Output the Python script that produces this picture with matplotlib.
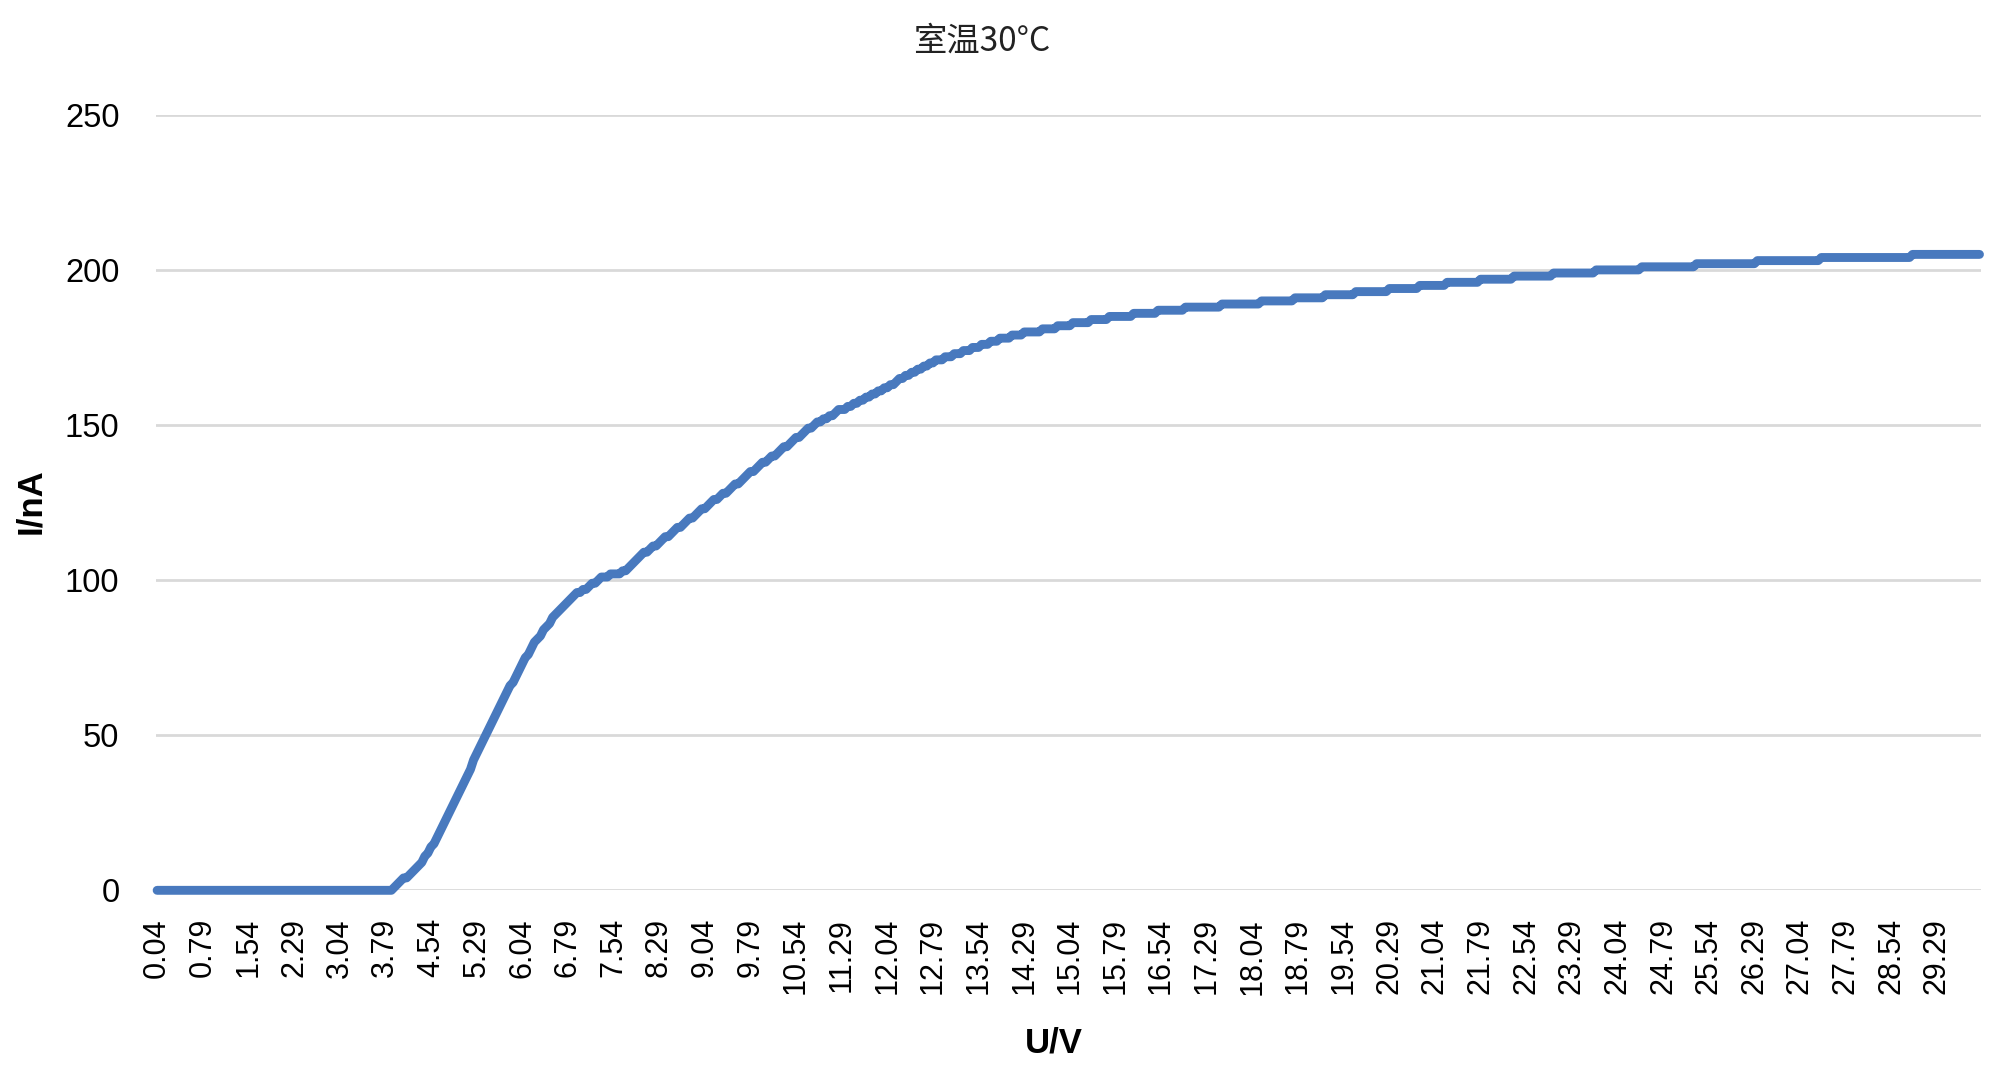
import numpy as np
import matplotlib
matplotlib.use("Agg")
import matplotlib.pyplot as plt

# ---------------- data ----------------
title_text = "室温30°C"
x_title = "U/V"
y_title = "I/nA"

voltage_start = 0.04   # first category (V)
voltage_step = 0.05    # category spacing (V)
label_every = 15       # a category label every 15 categories

# current before the onset (indices 0..77)
current_off = [
    0, 0, 0, 0, 0, 0, 0, 0, 0, 0, 0, 0, 0,
    0, 0, 0, 0, 0, 0, 0, 0, 0, 0, 0, 0, 0,
    0, 0, 0, 0, 0, 0, 0, 0, 0, 0, 0, 0, 0,
    0, 0, 0, 0, 0, 0, 0, 0, 0, 0, 0, 0, 0,
    0, 0, 0, 0, 0, 0, 0, 0, 0, 0, 0, 0, 0,
    0, 0, 0, 0, 0, 0, 0, 0, 0, 0, 0, 0, 0,
]

# steep rise (indices 78..145)
current_rise = [
    1, 2, 3, 4, 4, 5, 6, 7, 8, 9, 11, 12, 14, 15, 17,
    19, 21, 23, 25, 27, 29, 31, 33, 35, 37, 39, 42, 44, 46, 48,
    50, 52, 54, 56, 58, 60, 62, 64, 66, 67, 69, 71, 73, 75, 76,
    78, 80, 81, 82, 84, 85, 86, 88, 89, 90, 91, 92, 93, 94, 95,
    96, 96, 97, 97, 98, 99, 99, 100,
]

# second rise (indices 146..240)
current_mid = [
    101, 101, 101, 102, 102, 102, 102, 103, 103, 104,
    105, 106, 107, 108, 109, 109, 110, 111, 111, 112,
    113, 114, 114, 115, 116, 117, 117, 118, 119, 120,
    120, 121, 122, 123, 123, 124, 125, 126, 126, 127,
    128, 128, 129, 130, 131, 131, 132, 133, 134, 135,
    135, 136, 137, 138, 138, 139, 140, 140, 141, 142,
    143, 143, 144, 145, 146, 146, 147, 148, 149, 149,
    150, 151, 151, 152, 152, 153, 153, 154, 155, 155,
    155, 156, 156, 157, 157, 158, 158, 159, 159, 160,
    160, 161, 161, 162, 162,
]

# knee (indices 241..290)
current_knee = [
    163, 163, 164, 165, 165, 166, 166, 167, 167, 168,
    168, 169, 169, 170, 170, 171, 171, 171, 172, 172,
    172, 173, 173, 173, 174, 174, 174, 175, 175, 175,
    176, 176, 176, 177, 177, 177, 178, 178, 178, 178,
    179, 179, 179, 179, 180, 180, 180, 180, 180, 180,
]

# saturation with 1 nA steps (indices 291..599)
current_sat = (
    [181, 181, 181, 181, 181]
    + [182, 182, 182, 182, 182]
    + [183, 183, 183, 183, 183, 183]
    + [184, 184, 184, 184, 184, 184]
    + [185, 185, 185, 185, 185, 185, 185, 185]
    + [186, 186, 186, 186, 186, 186, 186, 186]
    + [187, 187, 187, 187, 187, 187, 187, 187, 187]
    + [188, 188, 188, 188, 188, 188, 188, 188, 188, 188, 188, 188]
    + [189, 189, 189, 189, 189, 189, 189, 189, 189, 189, 189, 189, 189]
    + [190, 190, 190, 190, 190, 190, 190, 190, 190, 190, 190]
    + [191, 191, 191, 191, 191, 191, 191, 191, 191, 191]
    + [192, 192, 192, 192, 192, 192, 192, 192, 192, 192]
    + [193, 193, 193, 193, 193, 193, 193, 193, 193, 193, 193]
    + [194, 194, 194, 194, 194, 194, 194, 194, 194, 194]
    + [195, 195, 195, 195, 195, 195, 195, 195, 195]
    + [196, 196, 196, 196, 196, 196, 196, 196, 196, 196, 196]
    + [197, 197, 197, 197, 197, 197, 197, 197, 197, 197, 197]
    + [198, 198, 198, 198, 198, 198, 198, 198, 198, 198, 198, 198, 198]
    + [199, 199, 199, 199, 199, 199, 199, 199, 199, 199, 199, 199, 199, 199]
    + [200, 200, 200, 200, 200, 200, 200, 200, 200, 200, 200, 200, 200, 200, 200]
    + [201, 201, 201, 201, 201, 201, 201, 201, 201, 201, 201, 201, 201, 201,
       201, 201, 201, 201]
    + [202, 202, 202, 202, 202, 202, 202, 202, 202, 202, 202, 202, 202, 202,
       202, 202, 202, 202, 202, 202]
    + [203, 203, 203, 203, 203, 203, 203, 203, 203, 203, 203, 203, 203, 203,
       203, 203, 203, 203, 203, 203, 203]
    + [204, 204, 204, 204, 204, 204, 204, 204, 204, 204, 204, 204, 204, 204,
       204, 204, 204, 204, 204, 204, 204, 204, 204, 204, 204, 204, 204, 204,
       204, 204]
    + [205, 205, 205, 205, 205, 205, 205, 205, 205, 205, 205, 205, 205, 205,
       205, 205, 205, 205, 205, 205, 205, 205, 205]
)

y_ticks = [0, 50, 100, 150, 200, 250]

current_nA = current_off + current_rise + current_mid + current_knee + current_sat
n = len(current_nA)
voltage_V = np.round(voltage_start + voltage_step * np.arange(n), 2)
categories = np.arange(n)

# ---------------- styling ----------------
LINE_COLOR = "#4879BE"
GRID_COLOR = "#D9D9D9"
FONT = ["Liberation Sans", "DejaVu Sans"]
CJK = ["Noto Sans CJK SC", "DejaVu Sans"]

fig = plt.figure(figsize=(20, 10.78), dpi=100)
ax = fig.add_axes([0.0778, 0.1741, 0.9905 - 0.0778, 0.8935 - 0.1741])

ax.plot(categories, current_nA, color=LINE_COLOR, lw=6.4,
        solid_capstyle="round", solid_joinstyle="round",
        clip_on=False, zorder=3)

ax.set_xlim(-0.5, n - 0.5)
ax.set_ylim(y_ticks[0], y_ticks[-1])
ax.set_yticks(y_ticks)
ax.set_yticklabels([str(t) for t in y_ticks], fontfamily=FONT, fontsize=23.5)

tick_pos = categories[::label_every]
ax.set_xticks(tick_pos)
ax.set_xticklabels([f"{v:.2f}" for v in voltage_V[::label_every]],
                   rotation=90, fontfamily=FONT, fontsize=22,
                   ha="center", va="top")

ax.yaxis.grid(True, color=GRID_COLOR, lw=2.0, zorder=0)
ax.xaxis.grid(False)
ax.set_axisbelow(True)
for s in ax.spines.values():
    s.set_visible(False)
ax.tick_params(axis="y", length=0, pad=26, colors="black")
ax.tick_params(axis="x", length=0, pad=20, colors="black")

fig.text(0.491, 0.962, title_text, ha="center", va="center",
         fontfamily=CJK, fontsize=24, color="#222222")
fig.text(0.527, 0.0325, x_title, ha="center", va="center",
         fontfamily=FONT, fontsize=25, fontweight="bold")
fig.text(0.0155, 0.535, y_title, ha="center", va="center", rotation=90,
         fontfamily=FONT, fontsize=25, fontweight="bold")

fig.savefig("out.png", dpi=100, facecolor="white")
